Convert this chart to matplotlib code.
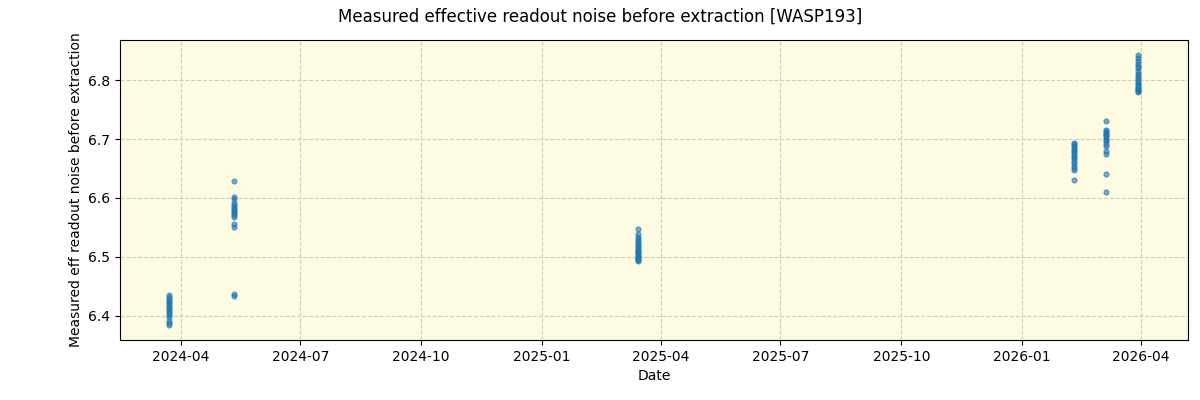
import matplotlib
matplotlib.use("Agg")
import matplotlib.pyplot as plt
import matplotlib.dates as mdates
import numpy as np
import pandas as pd

dates_c1 = ["2024-03-23"] * 16
vals_c1 = [6.384, 6.387, 6.392, 6.398, 6.402, 6.405, 6.408, 6.411, 6.414, 6.417, 6.420, 6.423, 6.426, 6.429, 6.432, 6.435]

dates_c2 = ["2024-05-12"] * 16
vals_c2 = [6.628, 6.601, 6.598, 6.592, 6.588, 6.585, 6.582, 6.580, 6.577, 6.574, 6.571, 6.567, 6.555, 6.550, 6.437, 6.434]

dates_c3 = ["2025-03-15"] * 20
vals_c3 = [6.548, 6.538, 6.534, 6.530, 6.527, 6.524, 6.521, 6.518, 6.515, 6.512, 6.510, 6.508, 6.506, 6.504, 6.502, 6.500, 6.498, 6.496, 6.494, 6.493]

dates_c4 = ["2026-02-09"] * 16
vals_c4 = [6.694, 6.691, 6.688, 6.685, 6.682, 6.679, 6.676, 6.673, 6.670, 6.667, 6.663, 6.660, 6.655, 6.650, 6.647, 6.630]

dates_c5 = ["2026-03-06"] * 16
vals_c5 = [6.731, 6.715, 6.713, 6.711, 6.709, 6.707, 6.705, 6.702, 6.699, 6.696, 6.692, 6.688, 6.680, 6.674, 6.641, 6.610]

dates_c6 = ["2026-03-30"] * 20
vals_c6 = [6.843, 6.838, 6.832, 6.828, 6.824, 6.820, 6.815, 6.811, 6.807, 6.804, 6.800, 6.797, 6.794, 6.791, 6.789, 6.787, 6.785, 6.783, 6.781, 6.780]

dates = pd.to_datetime(dates_c1 + dates_c2 + dates_c3 + dates_c4 + dates_c5 + dates_c6)
vals = vals_c1 + vals_c2 + vals_c3 + vals_c4 + vals_c5 + vals_c6

fig, ax = plt.subplots(figsize=(12, 4), dpi=100)
fig.subplots_adjust(left=0.1, right=0.99, top=0.9, bottom=0.15)
ax.set_facecolor("#fdfce2")
ax.scatter(dates, vals, s=12, color="#1f77b4", alpha=0.6, zorder=3)
ax.grid(True, linestyle="--", color="#cccccc", linewidth=0.8)
ax.set_axisbelow(True)
ax.set_ylim(6.359, 6.868)
ax.set_xlim(pd.Timestamp("2024-02-15"), pd.Timestamp("2026-05-07"))
ax.xaxis.set_major_locator(mdates.MonthLocator(bymonth=[1, 4, 7, 10]))
ax.xaxis.set_major_formatter(mdates.DateFormatter("%Y-%m"))
ax.set_xlabel("Date")
ax.set_ylabel("Measured eff readout noise before extraction")
fig.suptitle("Measured effective readout noise before extraction [WASP193]")
fig.savefig("out.png")
